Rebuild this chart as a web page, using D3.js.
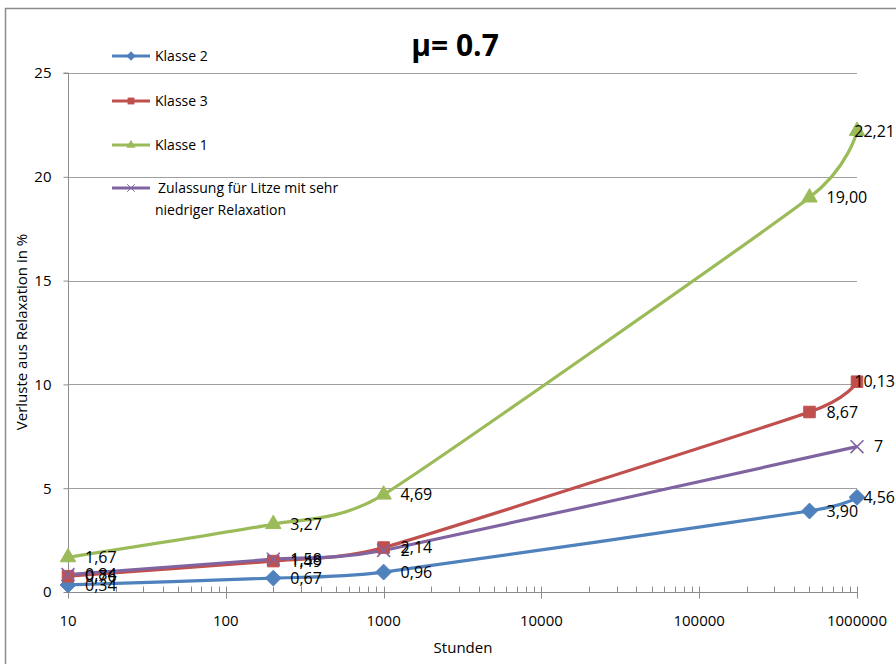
<!DOCTYPE html>
<html><head><meta charset="utf-8">
<script src="https://cdn.jsdelivr.net/npm/d3@7"></script>
<style>body{margin:0;background:#fff}svg{display:block}text{font-family:"Liberation Sans Narrow","Open Sans",sans-serif}</style>
</head><body><svg id="c" width="896" height="664"></svg>
<script>
const hours = [10, 200, 1000, 500000, 1000000];
const klasse2 = [0.34, 0.67, 0.96, 3.90, 4.56];
const klasse3 = [0.76, 1.49, 2.14, 8.67, 10.13];
const klasse1 = [1.67, 3.27, 4.69, 19.00, 22.21];
const zulHours = [10, 200, 1000, 1000000];
const zulassung = [0.84, 1.58, 2, 7];
const zulLabels = ["0,84", "1,58", "2", "7"];
const yTicks = [0, 5, 10, 15, 20, 25];
const xTicks = [10, 100, 1000, 10000, 100000, 1000000];

const series = [
  {name: "Klasse 2", x: hours, y: klasse2, color: "#4F81BD", sym: d3.symbolDiamond2, size: 160},
  {name: "Klasse 3", x: hours, y: klasse3, color: "#C0504D", sym: d3.symbolSquare2, size: 170},
  {name: "Klasse 1", x: hours, y: klasse1, color: "#9BBB59", sym: d3.symbolTriangle2, size: 170},
  {name: "Zulassung für Litze mit sehr|niedriger Relaxation", x: zulHours, y: zulassung, color: "#8064A2", sym: d3.symbolX, size: 110, labels: zulLabels}
];
const fmt = v => v.toFixed(2).replace(".", ",");

const svg = d3.select("#c");
const W = 896;
const x = d3.scaleLog().domain([10, 1000000]).range([68, 857]);
const y = d3.scaleLinear().domain([0, 25]).range([592, 73]);

// frame
svg.append("rect").attr("x", 5.5).attr("y", 8.5).attr("width", 1000).attr("height", 1000)
  .attr("fill", "none").attr("stroke", "#8c8c8c").attr("stroke-width", 1.5);

// grid
svg.append("g").selectAll("line").data(yTicks.filter(d => d > 0)).join("line")
  .attr("x1", 68).attr("x2", 857).attr("y1", d => Math.round(y(d)) + 0.5).attr("y2", d => Math.round(y(d)) + 0.5)
  .attr("stroke", "#a0a0a0").attr("stroke-width", 1);

// y axis
const ya = svg.append("g").attr("transform", "translate(68.5,0)")
  .call(d3.axisLeft(y).tickValues(yTicks).tickSize(5).tickPadding(12).tickFormat(d => d));
ya.select(".domain").attr("stroke", "#8c8c8c").attr("d", `M-5,${y(25)}H0V${y(0)}`);
ya.selectAll(".tick line").attr("stroke", "#8c8c8c");
ya.selectAll("text").attr("font-size", 15).attr("fill", "#000");

// x axis
const minor = [];
for (let e = 1; e < 6; e++) for (let m = 2; m < 10; m++) minor.push(m * Math.pow(10, e));
const xa = svg.append("g").attr("transform", "translate(0,592.5)");
xa.append("line").attr("x1", 68).attr("x2", 857).attr("stroke", "#8c8c8c");
xa.selectAll(".mn").data(minor).join("line").attr("class", "mn")
  .attr("x1", d => Math.round(x(d)) + 0.5).attr("x2", d => Math.round(x(d)) + 0.5)
  .attr("y1", -6).attr("y2", 0).attr("stroke", "#8c8c8c");
xa.selectAll(".mj").data(xTicks).join("line").attr("class", "mj")
  .attr("x1", d => Math.round(x(d)) + 0.5).attr("x2", d => Math.round(x(d)) + 0.5)
  .attr("y1", -6).attr("y2", 6).attr("stroke", "#8c8c8c");
xa.selectAll("text").data(xTicks).join("text")
  .attr("x", d => x(d)).attr("y", 33).attr("text-anchor", "middle")
  .attr("font-size", 15).text(d => d);

// lines
const line = d3.line().curve(d3.curveCardinal.tension(0.5));
series.forEach(s => {
  const pts = s.x.map((xv, i) => [x(xv), y(s.y[i])]);
  svg.append("path").attr("d", line(pts)).attr("fill", "none")
    .attr("stroke", s.color).attr("stroke-width", 3.2).attr("stroke-linejoin", "round");
});
series.forEach(s => {
  const g = svg.append("g");
  s.x.forEach((xv, i) => {
    const p = g.append("path").attr("d", d3.symbol().type(s.sym).size(s.size)())
      .attr("transform", `translate(${x(xv)},${y(s.y[i])})`);
    if (s.sym === d3.symbolX) p.attr("fill", "none").attr("stroke", s.color).attr("stroke-width", 1.6);
    else p.attr("fill", s.color).attr("stroke", s.color).attr("stroke-width", 1);
  });
});
// data labels
series.forEach(s => {
  s.x.forEach((xv, i) => {
    const txt = s.labels ? s.labels[i] : fmt(s.y[i]);
    const t = svg.append("text").attr("font-size", 16).attr("fill", "#000").attr("dy", "0.35em")
      .attr("y", y(s.y[i])).text(txt);
    const w = t.node().getComputedTextLength();
    t.attr("x", Math.min(x(xv) + 17, W - w - 1));
  });
});

// legend
const lg = svg.append("g");
const ly = [56, 101, 145, 188];
series.forEach((s, i) => {
  lg.append("line").attr("x1", 112).attr("x2", 150).attr("y1", ly[i]).attr("y2", ly[i])
    .attr("stroke", s.color).attr("stroke-width", 3);
  const m = lg.append("path").attr("d", d3.symbol().type(s.sym).size(s.size * 0.35)())
    .attr("transform", `translate(131,${ly[i]})`);
  if (s.sym === d3.symbolX) m.attr("fill", "none").attr("stroke", s.color).attr("stroke-width", 1);
  else m.attr("fill", s.color);
  const parts = s.name.split("|");
  parts.forEach((p, j) => {
    lg.append("text").attr("x", j === 0 && parts.length > 1 ? 158 : 155).attr("y", ly[i] + j * 22)
      .attr("dy", "0.35em").attr("font-size", 14).text(p);
  });
});

// title
svg.append("text").attr("x", 455).attr("y", 56).attr("text-anchor", "middle")
  .attr("font-size", 30).attr("font-weight", "bold").text("µ= 0.7");
// axis titles
svg.append("text").attr("x", 463).attr("y", 653).attr("text-anchor", "middle")
  .attr("font-size", 15).text("Stunden");
svg.append("text").attr("transform", "translate(27,332) rotate(-90)").attr("text-anchor", "middle")
  .attr("font-size", 15).text("Verluste aus Relaxation in %");
</script></body></html>
